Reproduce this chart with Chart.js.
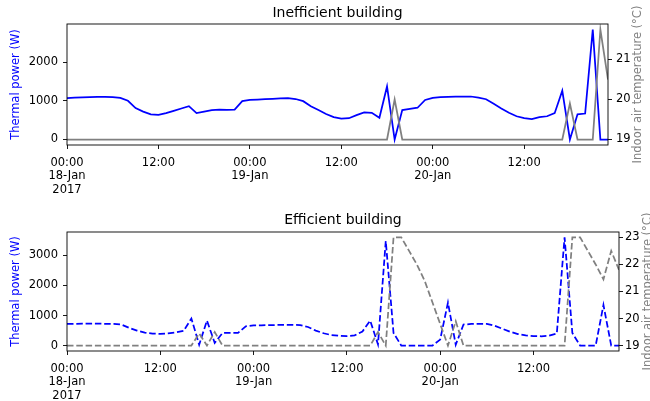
<!DOCTYPE html>
<html>
<head>
<meta charset="utf-8">
<script src="https://cdn.jsdelivr.net/npm/chart.js@4.4.1/dist/chart.umd.min.js"></script>
<style>
  html, body { margin: 0; padding: 0; background: #fff; }
  #wrap { position: relative; width: 650px; height: 401px; }
  .box { position: absolute; left: 0; width: 650px; }
  #topBox { top: 0; height: 200px; }
  #botBox { top: 200px; height: 201px; }
</style>
</head>
<body>
<div id="wrap">
  <div class="box" id="topBox"><canvas id="topChart" width="650" height="200"></canvas></div>
  <div class="box" id="botBox"><canvas id="botChart" width="650" height="201"></canvas></div>
</div>
<script>
// hourly readings, 18-Jan 00:00 to 20-Jan 23:00
const hours = Array.from({ length: 72 }, (_, i) => i);

// x tick labels (hour offset -> text)
const tickHours = [0, 12, 24, 36, 48, 60];
const tickText = [["00:00", "18-Jan", "2017"], "12:00", ["00:00", "19-Jan"], "12:00", ["00:00", "20-Jan"], "12:00"];

// y tick values
const ineffPowerTicks = [0, 1000, 2000];
const ineffTempTicks = [19, 20, 21];
const effPowerTicks = [0, 1000, 2000, 3000];
const effTempTicks = [19, 20, 21, 22, 23];

// Inefficient building
const ineffPower = [
  1070, 1080, 1090, 1095, 1100, 1100, 1095, 1075, 1000, 810, 720, 650,
  635, 680, 740, 800, 860, 680, 720, 760, 770, 765, 770, 990,
  1020, 1030, 1040, 1050, 1060, 1065, 1045, 990, 860, 760, 660, 580,
  540, 550, 630, 700, 690, 560, 1370, 0, 760, 790, 820, 1020,
  1075, 1095, 1100, 1105, 1110, 1110, 1080, 1040, 920, 800, 690, 600,
  550, 525, 580, 600, 680, 1260, 0, 650, 670, 2840, 0, 0
];
const ineffTemp = [
  19, 19, 19, 19, 19, 19, 19, 19, 19, 19, 19, 19,
  19, 19, 19, 19, 19, 19, 19, 19, 19, 19, 19, 19,
  19, 19, 19, 19, 19, 19, 19, 19, 19, 19, 19, 19,
  19, 19, 19, 19, 19, 19, 19, 20.0, 19, 19, 19, 19,
  19, 19, 19, 19, 19, 19, 19, 19, 19, 19, 19, 19,
  19, 19, 19, 19, 19, 19, 19.9, 19, 19, 19, 21.75, 20.5
];

// Efficient building
const effPower = [
  720, 725, 730, 730, 730, 725, 720, 700, 590, 500, 430, 400,
  390, 405, 440, 490, 900, 30, 830, 90, 420, 420, 425, 640,
  670, 675, 680, 685, 690, 690, 680, 620, 500, 410, 350, 330,
  315, 340, 470, 830, 40, 3480, 420, 0, 0, 0, 0, 0,
  200, 1430, 30, 700, 720, 725, 720, 660, 560, 460, 385, 340,
  315, 310, 330, 400, 3600, 420, 0, 0, 0, 1350, 0, 0
];
const effTemp = [
  19, 19, 19, 19, 19, 19, 19, 19, 19, 19, 19, 19,
  19, 19, 19, 19, 19, 19.45, 19, 19.5, 19, 19, 19, 19,
  19, 19, 19, 19, 19, 19, 19, 19, 19, 19, 19, 19,
  19, 19, 19, 19, 19.5, 19, 23.0, 23.0, 22.5, 22.0, 21.4, 20.6,
  19.8, 19, 19.9, 19, 19, 19, 19, 19, 19, 19, 19, 19,
  19, 19, 19, 19, 19, 23.0, 23.0, 22.5, 22.0, 21.45, 22.5, 21.8
];

Chart.defaults.font.family = "'DejaVu Sans', sans-serif";
Chart.defaults.color = "#000";

// matplotlib style 5% margins
function padRange(arr) {
  const lo = Math.min(...arr), hi = Math.max(...arr);
  const m = (hi - lo) * 0.05;
  return { min: lo - m, max: hi + m };
}

function toPoints(vals) {
  return vals.map((v, i) => ({ x: hours[i], y: v }));
}

// box round the axes, like matplotlib spines
const frame = {
  id: "frame",
  afterDatasetsDraw(chart) {
    const a = chart.chartArea, ctx = chart.ctx;
    ctx.save();
    ctx.strokeStyle = "#000";
    ctx.lineWidth = 0.9;
    ctx.strokeRect(a.left, a.top, a.right - a.left, a.bottom - a.top);
    ctx.restore();
  }
};

// right axis label reads bottom to top
const sideLabel = {
  id: "sideLabel",
  afterDraw(chart, args, opts) {
    const a = chart.chartArea, ctx = chart.ctx;
    ctx.save();
    ctx.translate(opts.x, (a.top + a.bottom) / 2);
    ctx.rotate(-Math.PI / 2);
    ctx.font = "11.5px 'DejaVu Sans'";
    ctx.fillStyle = "grey";
    ctx.textAlign = "center";
    ctx.textBaseline = "middle";
    ctx.fillText(opts.text, 0, 0);
    ctx.restore();
  }
};

const tickGrid = { drawOnChartArea: false, drawTicks: true, tickLength: 4, color: "#000", lineWidth: 0.9 };

function fixedTicks(values) {
  return sc => { sc.ticks = values.map(v => ({ value: v })); };
}

function makeChart(id, s) {
  const pr = padRange(s.power);
  const tr = padRange(s.temp);
  return new Chart(document.getElementById(id), {
    type: "line",
    data: {
      datasets: [
        {
          data: toPoints(s.temp), yAxisID: "y2", order: 0,
          borderColor: "grey", borderWidth: 1.75, borderDash: s.dash,
          pointRadius: 0, tension: 0, fill: false
        },
        {
          data: toPoints(s.power), yAxisID: "y", order: 1,
          borderColor: "blue", borderWidth: 1.75, borderDash: s.dash,
          pointRadius: 0, tension: 0, fill: false
        }
      ]
    },
    options: {
      responsive: false,
      animation: false,
      layout: { padding: 0 },
      plugins: {
        legend: { display: false },
        tooltip: { enabled: false },
        title: {
          display: true, text: s.title, fullSize: false,
          font: { size: 14, weight: "normal" }, color: "#000",
          padding: s.titlePad
        },
        sideLabel: { text: "Indoor air temperature (°C)", x: s.labelX }
      },
      scales: {
        x: {
          type: "linear", min: 0, max: 71,
          grid: tickGrid, border: { display: false },
          afterFit: sc => { sc.height = s.xHeight; },
          afterBuildTicks: fixedTicks(tickHours),
          ticks: {
            autoSkip: false, maxRotation: 0, padding: 7,
            font: { size: 11.5, lineHeight: 1.17 },
            callback: v => tickText[tickHours.indexOf(v)]
          }
        },
        y: {
          position: "left", min: pr.min, max: pr.max,
          grid: tickGrid, border: { display: false },
          afterFit: sc => { sc.width = 67; },
          afterBuildTicks: fixedTicks(s.powerTicks),
          ticks: { padding: 5, font: { size: 11.5 }, callback: v => String(v) },
          title: {
            display: true, text: "Thermal power (W)", color: "blue",
            font: { size: 11.5 }, padding: { top: 9, bottom: 0 }
          }
        },
        y2: {
          position: "right", min: tr.min, max: tr.max,
          grid: tickGrid, border: { display: false },
          afterFit: sc => { sc.width = s.rightWidth; },
          afterBuildTicks: fixedTicks(s.tempTicks),
          ticks: { padding: s.rightPad, font: { size: 11.5 }, callback: v => String(v) }
        }
      }
    },
    plugins: [frame, sideLabel]
  });
}

makeChart("topChart", {
  title: "Inefficient building", power: ineffPower, temp: ineffTemp, dash: [],
  powerTicks: ineffPowerTicks, tempTicks: ineffTempTicks,
  titlePad: { top: 5, bottom: 2.2 }, xHeight: 55, rightWidth: 42, rightPad: 4, labelX: 638
});

makeChart("botChart", {
  title: "Efficient building", power: effPower, temp: effTemp, dash: [6.5, 2.8],
  powerTicks: effPowerTicks, tempTicks: effTempTicks,
  titlePad: { top: 12.3, bottom: 2.9 }, xHeight: 50, rightWidth: 31, rightPad: 2, labelX: 648
});
</script>
</body>
</html>
